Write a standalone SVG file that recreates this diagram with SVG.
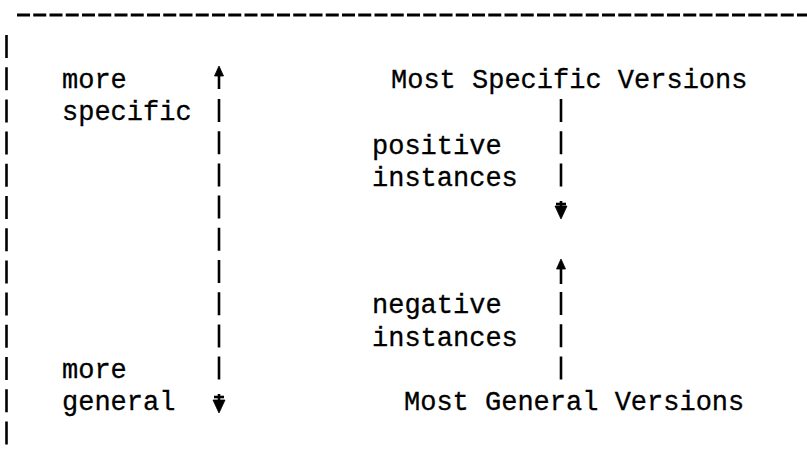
<svg xmlns="http://www.w3.org/2000/svg" width="807" height="463" viewBox="0 0 807 463">
<style>
  .t { font-family: "Liberation Mono", "DejaVu Sans Mono", monospace; font-size: 27px; fill: #000; stroke: #000; stroke-width: 0.3; }
  .bar { stroke: #000; stroke-width: 2.6; fill: none; stroke-dasharray: 23 9.2; }
  .shaft { stroke: #000; stroke-width: 2.6; fill: none; }
  .head { fill: #000; stroke: #000; stroke-width: 0.8; stroke-linejoin: round; }
  .rule { stroke: #000; stroke-width: 3; stroke-dasharray: 13 3.25; fill: none; }
</style>
<rect width="807" height="463" fill="#fff"/>
<line class="rule" x1="17" y1="15" x2="807" y2="15"/>

<g id="label-more-specific">
  <text class="t" x="62" y="88">more</text>
  <text class="t" x="62" y="120">specific</text>
</g>
<g id="label-more-general">
  <text class="t" x="62" y="378">more</text>
  <text class="t" x="62" y="410">general</text>
</g>
<g id="node-most-specific">
  <text class="t" x="391" y="88">Most Specific Versions</text>
</g>
<g id="node-most-general">
  <text class="t" x="404" y="410">Most General Versions</text>
</g>
<g id="label-positive">
  <text class="t" x="372" y="154">positive</text>
  <text class="t" x="372" y="186">instances</text>
</g>
<g id="label-negative">
  <text class="t" x="372" y="313">negative</text>
  <text class="t" x="372" y="346">instances</text>
</g>

<g id="connectors">
  <!-- left border bar -->
  <line class="bar" x1="6.5" y1="35" x2="6.5" y2="445"/>
  <!-- generality scale -->
  <line class="shaft" x1="219" y1="72" x2="219" y2="89"/>
  <polygon class="head" points="219,66 223.5,76 214.5,76"/>
  <line class="bar" x1="219" y1="99" x2="219" y2="381"/>
  <line class="shaft" x1="219" y1="394" x2="219" y2="406"/>
  <line class="shaft" x1="214" y1="397" x2="224" y2="397"/>
  <polygon class="head" points="219,413 213,400 225,400"/>
  <!-- positive instances: down -->
  <line class="bar" x1="561" y1="99" x2="561" y2="188"/>
  <line class="shaft" x1="561" y1="201" x2="561" y2="212"/>
  <line class="shaft" x1="556" y1="204" x2="566" y2="204"/>
  <polygon class="head" points="561,219 555,206 567,206"/>
  <!-- negative instances: up -->
  <line class="shaft" x1="561" y1="265" x2="561" y2="284"/>
  <polygon class="head" points="561,259 565.5,269 556.5,269"/>
  <line class="bar" x1="561" y1="292" x2="561" y2="381"/>
</g>
</svg>
